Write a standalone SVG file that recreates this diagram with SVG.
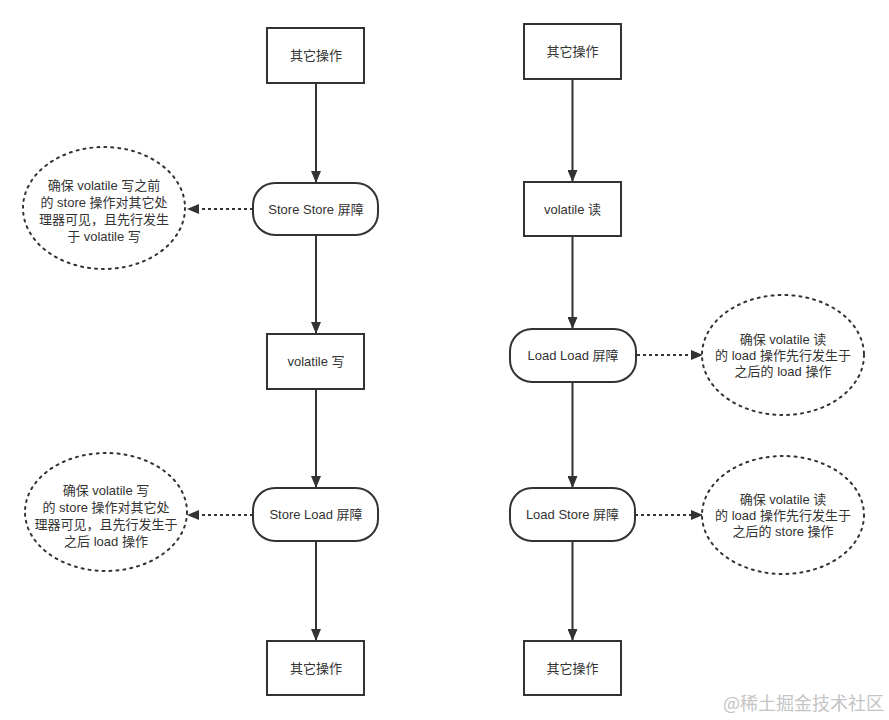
<svg xmlns="http://www.w3.org/2000/svg" width="889" height="720" viewBox="0 0 889 720">
<style>
.box{fill:#fff;stroke:#333;stroke-width:2}
.note{fill:#fff;stroke:#333;stroke-width:2;stroke-dasharray:2 5;stroke-linecap:round}
.t{font-family:"Liberation Sans","Noto Sans CJK SC",sans-serif;font-size:13px;fill:#333;text-anchor:middle}
.line{stroke:#333;stroke-width:2;fill:none}
.dash{stroke:#333;stroke-width:2;fill:none;stroke-dasharray:3 3}
.wm{font-family:"Noto Sans CJK SC",sans-serif;font-size:18px;fill:#c4c4c4}
</style>
<defs>
<marker id="ah" markerWidth="12" markerHeight="10" refX="11" refY="5" orient="auto" markerUnits="userSpaceOnUse">
<path d="M0,0 L12,5 L0,10 Z" fill="#333"/>
</marker>
</defs>
<rect width="889" height="720" fill="#fff"/>
<g id="connectors">
<line class="line" x1="316" y1="83" x2="316" y2="182" marker-end="url(#ah)"/>
<line class="line" x1="316" y1="235" x2="316" y2="333" marker-end="url(#ah)"/>
<line class="line" x1="316" y1="389" x2="316" y2="487" marker-end="url(#ah)"/>
<line class="line" x1="316" y1="541" x2="316" y2="640" marker-end="url(#ah)"/>
<line class="line" x1="572.5" y1="79" x2="572.5" y2="181" marker-end="url(#ah)"/>
<line class="line" x1="572.5" y1="236" x2="572.5" y2="328" marker-end="url(#ah)"/>
<line class="line" x1="572.5" y1="382" x2="572.5" y2="487" marker-end="url(#ah)"/>
<line class="line" x1="572.5" y1="541" x2="572.5" y2="640" marker-end="url(#ah)"/>
<line class="dash" x1="253" y1="209" x2="188" y2="209" marker-end="url(#ah)"/>
<line class="dash" x1="253" y1="515" x2="188" y2="515" marker-end="url(#ah)"/>
<line class="dash" x1="637" y1="355" x2="702" y2="355" marker-end="url(#ah)"/>
<line class="dash" x1="635" y1="515" x2="702" y2="515" marker-end="url(#ah)"/>
</g>
<g id="l-op1"><rect class="box" x="267" y="28" width="97" height="55"/><text class="t" x="316" y="60">其它操作</text></g>
<g id="l-ss"><rect class="box" x="253" y="183" width="125" height="52" rx="22"/><text class="t" x="316" y="214">Store Store 屏障</text></g>
<g id="l-vw"><rect class="box" x="267" y="334" width="97" height="55"/><text class="t" x="316" y="366">volatile 写</text></g>
<g id="l-sl"><rect class="box" x="253" y="488" width="125" height="53" rx="22"/><text class="t" x="316" y="519">Store Load 屏障</text></g>
<g id="l-op2"><rect class="box" x="267" y="641" width="97" height="54"/><text class="t" x="316" y="673">其它操作</text></g>
<g id="r-op1"><rect class="box" x="524" y="24" width="97" height="55"/><text class="t" x="572.5" y="56">其它操作</text></g>
<g id="r-vr"><rect class="box" x="524" y="182" width="97" height="54"/><text class="t" x="572.5" y="214">volatile 读</text></g>
<g id="r-ll"><rect class="box" x="510" y="329" width="126" height="53" rx="22"/><text class="t" x="573" y="360">Load Load 屏障</text></g>
<g id="r-ls"><rect class="box" x="510" y="488" width="125" height="53" rx="22"/><text class="t" x="572.5" y="519">Load Store 屏障</text></g>
<g id="r-op2"><rect class="box" x="524" y="641" width="97" height="54"/><text class="t" x="572.5" y="673">其它操作</text></g>
<g id="n1"><ellipse class="note" cx="104" cy="208" rx="81" ry="61"/>
<text class="t"><tspan x="104" y="190">确保 volatile 写之前</tspan><tspan x="104" y="207">的 store 操作对其它处</tspan><tspan x="104" y="224">理器可见，且先行发生</tspan><tspan x="104" y="241">于 volatile 写</tspan></text></g>
<g id="n2"><ellipse class="note" cx="106" cy="512" rx="81" ry="59"/>
<text class="t"><tspan x="106" y="495">确保 volatile 写</tspan><tspan x="106" y="512">的 store 操作对其它处</tspan><tspan x="106" y="529">理器可见，且先行发生于</tspan><tspan x="106" y="546">之后 load 操作</tspan></text></g>
<g id="n3"><ellipse class="note" cx="783" cy="355" rx="81" ry="60"/>
<text class="t"><tspan x="783" y="344">确保 volatile 读</tspan><tspan x="783" y="360">的 load 操作先行发生于</tspan><tspan x="783" y="376">之后的 load 操作</tspan></text></g>
<g id="n4"><ellipse class="note" cx="783" cy="515" rx="81" ry="59"/>
<text class="t"><tspan x="783" y="504">确保 volatile 读</tspan><tspan x="783" y="520">的 load 操作先行发生于</tspan><tspan x="783" y="536">之后的 store 操作</tspan></text></g>
<text class="wm" x="723" y="710">@稀土掘金技术社区</text>
</svg>
